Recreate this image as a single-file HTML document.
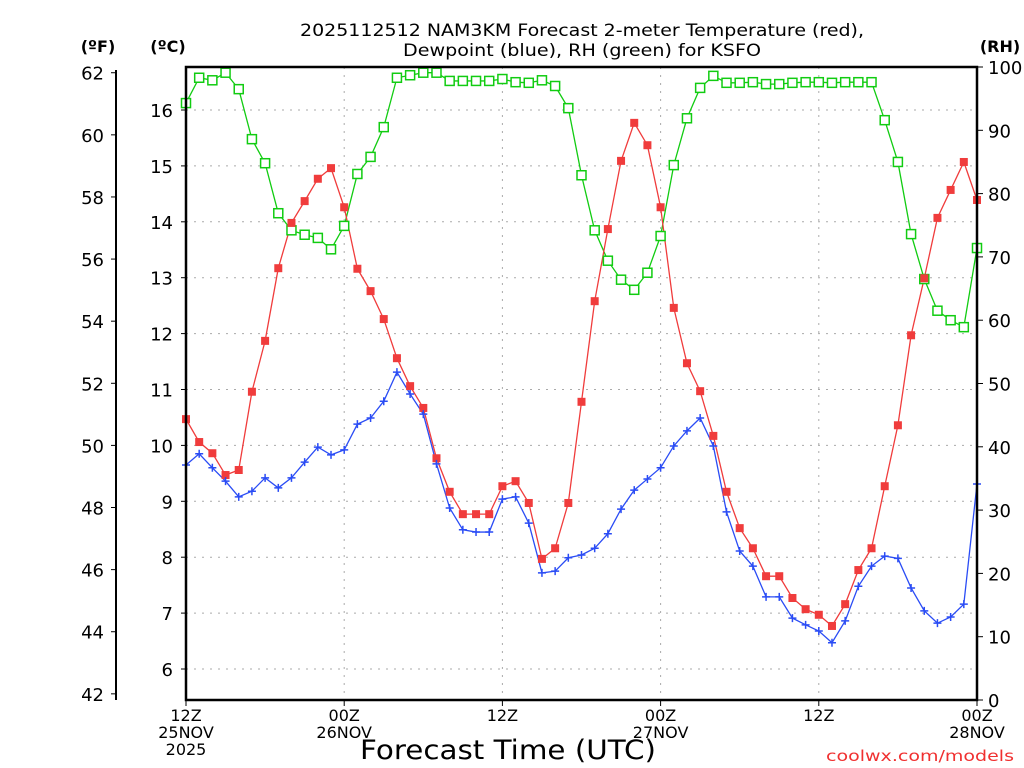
<!DOCTYPE html>
<html><head><meta charset="utf-8"><style>
html,body{margin:0;padding:0;background:#fff;}
svg{display:block;font-family:"DejaVu Sans","Liberation Sans",sans-serif;}
</style></head><body>
<svg id="chart" width="1024" height="768" viewBox="0 0 1024 768">
<text x="582" y="36" text-anchor="middle" font-size="17" textLength="564" lengthAdjust="spacingAndGlyphs">2025112512 NAM3KM Forecast 2-meter Temperature (red),</text>
<text x="582" y="56" text-anchor="middle" font-size="17" textLength="358" lengthAdjust="spacingAndGlyphs">Dewpoint (blue), RH (green) for KSFO</text>
<text x="98" y="52" text-anchor="middle" font-size="16" font-weight="bold">(ºF)</text>
<text x="168" y="52" text-anchor="middle" font-size="16" font-weight="bold">(ºC)</text>
<text x="1000" y="52" text-anchor="middle" font-size="16" font-weight="bold">(RH)</text>
<text x="508" y="759" text-anchor="middle" font-size="27" textLength="296" lengthAdjust="spacingAndGlyphs">Forecast Time (UTC)</text>
<text x="1014" y="761" text-anchor="end" font-size="15" fill="#f03030" textLength="188" lengthAdjust="spacingAndGlyphs">coolwx.com/models</text>
<g id="grid"></g><g id="axes"></g><g id="series"></g>
<rect x="186" y="67" width="791" height="633" fill="none" stroke="#000" stroke-width="2.5"/>
</svg>
<script>
const hours = Array.from({length:61},(_,i)=>i);
const tempC = [10.47,10.06,9.86,9.47,9.56,10.96,11.87,13.17,13.98,14.37,14.77,14.96,14.26,13.16,12.76,12.26,11.56,11.06,10.67,9.77,9.17,8.77,8.77,8.77,9.27,9.36,8.97,7.97,8.16,8.97,10.78,12.58,13.87,15.09,15.77,15.37,14.26,12.46,11.47,10.97,10.17,9.17,8.52,8.16,7.66,7.66,7.27,7.07,6.97,6.77,7.16,7.77,8.16,9.27,10.36,11.97,12.99,14.07,14.57,15.07,14.39];
const dewC = [9.65,9.85,9.60,9.36,9.08,9.18,9.42,9.24,9.42,9.70,9.97,9.83,9.92,10.38,10.49,10.79,11.31,10.92,10.56,9.67,8.88,8.49,8.45,8.45,9.04,9.08,8.61,7.72,7.75,7.99,8.04,8.16,8.42,8.86,9.20,9.40,9.60,9.99,10.26,10.49,9.99,8.81,8.11,7.84,7.29,7.29,6.91,6.79,6.68,6.47,6.86,7.48,7.84,8.02,7.98,7.45,7.04,6.82,6.93,7.16,9.31];
const rh = [94.3,98.3,97.9,99.1,96.5,88.6,84.8,76.9,74.2,73.5,73.0,71.2,74.9,83.1,85.8,90.5,98.3,98.7,99.1,99.1,97.8,97.8,97.8,97.8,98.1,97.6,97.5,97.9,97.0,93.5,82.9,74.2,69.4,66.4,64.8,67.5,73.3,84.5,91.9,96.7,98.6,97.5,97.5,97.6,97.3,97.3,97.5,97.6,97.6,97.5,97.6,97.6,97.6,91.6,85.0,73.6,66.5,61.5,60.0,58.9,71.4];
const fTicks = [42,44,46,48,50,52,54,56,58,60,62];
const cTicks = [6,7,8,9,10,11,12,13,14,15,16];
const rhTicks = [0,10,20,30,40,50,60,70,80,90,100];
const xTickHours = [0,12,24,36,48,60];
const xTickLabels = [["12Z","25NOV","2025"],["00Z","26NOV"],["12Z"],["00Z","27NOV"],["12Z"],["00Z","28NOV"]];

const NS="http://www.w3.org/2000/svg";
const X=h=>186+h*(791/60);
const YC=c=>110+(16-c)*55.9;
const YF=f=>YC((f-32)*5/9);
const YR=r=>700-r*6.33;
function mk(tag,attrs,parent){const e=document.createElementNS(NS,tag);for(const k in attrs)e.setAttribute(k,attrs[k]);parent.appendChild(e);return e;}
const grid=document.getElementById('grid'),axes=document.getElementById('axes'),ser=document.getElementById('series');

cTicks.forEach(c=>{
  const y=YC(c);
  const g=mk('line',{x1:186,x2:977,y1:y,y2:y,stroke:'#aaa','stroke-dasharray':'2,6'},grid);
  
  
  mk('line',{x1:181,x2:186,y1:y,y2:y,stroke:'#000'},axes);
  const t=mk('text',{x:173,y:y+7,'text-anchor':'end','font-size':18},axes);t.textContent=c;
  
  
});
mk('line',{x1:116,x2:116,y1:70,y2:700,stroke:'#000','stroke-width':2},axes);
fTicks.forEach(f=>{
  const y=YF(f);
  mk('line',{x1:111,x2:116,y1:y,y2:y,stroke:'#000'},axes);
  const t=mk('text',{x:104,y:y+7,'text-anchor':'end','font-size':18},axes);t.textContent=f;
  
  
});
rhTicks.forEach(r=>{
  const y=YR(r);
  mk('line',{x1:977,x2:983,y1:y,y2:y,stroke:'#000'},axes);
  const t=mk('text',{x:988,y:y+7,'text-anchor':'start','font-size':18},axes);t.textContent=r;
  
  
});
xTickHours.forEach((h,i)=>{
  const x=X(h);
  if(h>0&&h<60){const g=mk('line',{x1:x,x2:x,y1:67,y2:700,stroke:'#aaa','stroke-dasharray':'2,6'},grid);
    
    }
  mk('line',{x1:x,x2:x,y1:700,y2:706,stroke:'#000'},axes);
  xTickLabels[i].forEach((s,j)=>{
    const t=mk('text',{x:x,y:721+j*17,'text-anchor':'middle','font-size':16},axes);t.textContent=s;
    
    
  });
});
function line(vals,yf,color,name){
  const p=mk('polyline',{points:vals.map((v,i)=>X(hours[i])+','+yf(v)).join(' '),fill:'none',stroke:color,'stroke-width':1.3},ser);
  
  
}
line(rh,YR,'#11cc11','rh');
line(tempC,YC,'#f03c3c','temperature');
line(dewC,YC,'#2a4cf5','dewpoint');
rh.forEach((v,i)=>{
  const m=mk('rect',{x:X(hours[i])-4.5,y:YR(v)-4.5,width:9,height:9,fill:'#fff',stroke:'#11cc11','stroke-width':1.5},ser);
  
  
});
tempC.forEach((v,i)=>{
  const m=mk('rect',{x:X(hours[i])-4,y:YC(v)-4,width:8,height:8,fill:'#f03c3c'},ser);
  
  
});
dewC.forEach((v,i)=>{
  const x=X(hours[i]),y=YC(v);
  const m=mk('path',{d:`M${x-4},${y}H${x+4}M${x},${y-4}V${y+4}`,stroke:'#2a4cf5','stroke-width':1.5},ser);
  
  
});
</script>
</body></html>
